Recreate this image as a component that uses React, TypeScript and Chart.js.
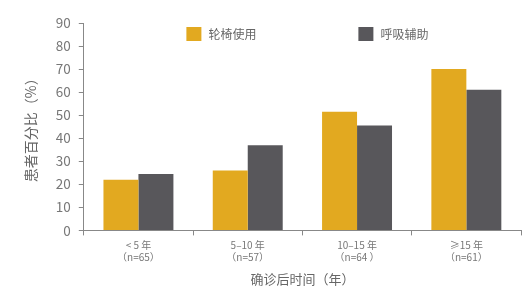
import React, { useEffect, useRef } from "react";
import { Chart, registerables } from "chart.js";

Chart.register(...registerables);

const categories: string[][] = [
  ["< 5 年", "（n=65）"],
  ["5–10 年", "（n=57）"],
  ["10–15 年", "（n=64 ）"],
  ["≥15 年", "（n=61）"],
];
const wheelchairUse: number[] = [22, 26, 51.5, 70];
const respiratorySupport: number[] = [24.5, 37, 45.5, 61];
const seriesNames: string[] = ["轮椅使用", "呼吸辅助"];
const yTitle = "患者百分比（%）";
const xTitle = "确诊后时间（年）";

const FONT = "'Noto Sans CJK SC', 'Noto Sans', sans-serif";

const insideLegend = {
  id: "insideLegend",
  afterDraw(chart: any) {
    const { ctx, chartArea } = chart;
    const cx = (chartArea.left + chartArea.right) / 2;
    const cy = chartArea.top + 11;
    const offsets = [-116, 56];
    ctx.save();
    ctx.font = `12px ${FONT}`;
    ctx.textBaseline = "middle";
    ctx.textAlign = "left";
    chart.data.datasets.forEach((ds: any, i: number) => {
      const x = cx + offsets[i];
      ctx.fillStyle = ds.backgroundColor;
      ctx.fillRect(x, cy - 7, 15, 14);
      ctx.fillStyle = "#666";
      ctx.fillText(ds.label, x + 22, cy);
    });
    ctx.restore();
  },
};

export default function App() {
  const ref = useRef<HTMLCanvasElement | null>(null);
  useEffect(() => {
    document.body.style.margin = "0";
    const ctx = ref.current!;
    const chart = new Chart(ctx, {
      type: "bar",
      data: {
        labels: categories,
        datasets: [
          {
            label: seriesNames[0],
            data: wheelchairUse,
            backgroundColor: "#E2A920",
            categoryPercentage: 0.64,
            barPercentage: 1,
          },
          {
            label: seriesNames[1],
            data: respiratorySupport,
            backgroundColor: "#58575B",
            categoryPercentage: 0.64,
            barPercentage: 1,
          },
        ],
      },
      options: {
        animation: false,
        responsive: false,
        maintainAspectRatio: false,
        layout: { padding: { left: 22, right: 7, top: 23, bottom: 7 } },
        plugins: {
          tooltip: { enabled: false },
          legend: { display: false },
        },
        scales: {
          x: {
            grid: {
              drawOnChartArea: false,
              drawTicks: true,
              tickLength: 5,
              color: "#888",
            },
            border: { color: "#888", width: 1 },
            ticks: {
              color: "#777",
              font: { family: FONT, size: 10, lineHeight: 1.2 },
              padding: 4,
            },
            title: {
              display: true,
              text: xTitle,
              color: "#666",
              font: { family: FONT, size: 13 },
              padding: { top: 4, bottom: 0 },
            },
          },
          y: {
            min: 0,
            max: 90,
            grid: {
              drawOnChartArea: false,
              drawTicks: true,
              tickLength: 5,
              color: "#888",
            },
            border: { color: "#888", width: 1 },
            ticks: {
              stepSize: 10,
              color: "#777",
              font: { family: FONT, size: 13.5 },
              padding: 8,
            },
            title: {
              display: true,
              text: yTitle,
              color: "#666",
              font: { family: FONT, size: 14 },
              padding: { top: 0, bottom: 9 },
            },
          },
        },
      },
      plugins: [insideLegend],
    });
    return () => chart.destroy();
  }, []);
  return (
    <div style={{ width: 528, height: 294, background: "#fff" }}>
      <canvas ref={ref} width={528} height={294} />
    </div>
  );
}
